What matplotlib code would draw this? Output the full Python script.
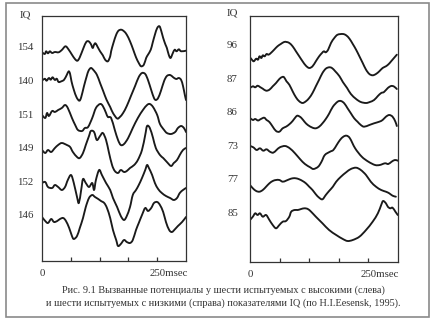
import matplotlib
matplotlib.use("Agg")
import matplotlib.pyplot as plt
from matplotlib.patches import Rectangle, PathPatch
from matplotlib.path import Path

plt.rcParams['font.family'] = ['Liberation Serif', 'DejaVu Serif']

# ---- Evoked potentials, high-IQ group (left panel) ----
high_iq = [154, 140, 151, 149, 152, 146]

t_h1 = [0, 6, 9, 13, 17, 22, 28, 36, 43, 51, 58, 65, 72, 77, 82, 90, 96, 101, 106, 110, 113, 116, 120, 126,
        132, 137, 143, 148, 150, 155, 161, 166, 172, 178, 184, 191, 198, 204, 210, 215, 221, 226, 230, 236,
        240, 245, 250, 255, 259, 263, 268, 271, 275, 279, 284, 288, 292, 297, 302, 312.5]
a_h1 = [-4.3, -6, -3.3, -5.3, -3.3, -5, -4, -4.3, -2, 1.7, -1.7, -6.7, -11.3, -12.7, -9.3, 0, 6, 6.7, 4, 0,
        3.3, 4.7, 1.7, -3.3, -7.3, -11.7, -13.3, -8.3, -3.3, 5, 13.3, 17.3, 18.3, 16.7, 13.3, 6.7, -1.7, -9.3,
        -15, -18.3, -16.7, -10, -6.7, -1.7, 5, 13.3, 20, 21.7, 16.7, 10, 3.3, 0, -6.7, -10, -5, -1.7, -3.3,
        -1.3, -3.3, -2.7]

t_h2 = [0, 6, 10, 15, 19, 23, 28, 32, 36, 42, 48, 54, 58, 61, 64, 69, 75, 81, 85, 91, 97, 101, 106, 111,
        119, 126, 133, 140, 148, 154, 163, 169, 176, 184, 193, 202, 210, 217, 224, 230, 237, 243, 247, 252,
        258, 265, 271, 278, 284, 291, 297, 302, 306, 310, 312.5]
a_h2 = [0.9, 2.9, 0.9, 3.6, 1.9, 4.3, 1.6, 2.9, -0.4, 0.3, 1.9, 6.9, 10.3, 7.6, 0.3, -8.1, -15.7, -19.1,
        -15.7, -4.7, 5.3, 10.9, 13.6, 11.9, 6.9, -1.4, -9.7, -18.1, -25.4, -31.4, -36.9, -35.4, -31.4, -24.4,
        -14.4, -4.4, 4.6, 8.6, 7.6, 1.6, -8.4, -16.4, -18.4, -16.4, -9.4, 0.6, 5.6, 6.6, 4.6, 2.6, 3.6, 1.6,
        -4.4, -13.4, -18.4]

t_h3 = [0, 7, 11, 15, 22, 28, 35, 43, 50, 56, 65, 72, 78, 87, 93, 100, 109, 117, 126, 132, 139, 143, 150,
        158, 165, 171, 178, 187, 197, 208, 219, 228, 234, 241, 250, 256, 265, 271, 280, 289, 295, 302, 308,
        312.5]
a_h3 = [0.2, -2.8, 2.2, -0.8, 4.2, 3.2, 5.2, 7.2, 10.2, 7.2, -2.8, -9.8, -14.8, -15.8, -12.8, -11.8, -2.8,
        7.2, 11.2, 9.2, 2.2, -1.8, -2.8, -14.8, -24.8, -29.8, -28.8, -22.8, -12.8, -2.8, 5.2, 10.2, 11.2,
        8.2, 0.2, -8.8, -14.8, -17.8, -18.8, -16.8, -12.8, -10.8, -12.8, -16.8]

t_h4 = [0, 7, 13, 20, 28, 35, 43, 54, 61, 67, 76, 82, 89, 95, 102, 106, 113, 119, 126, 132, 139, 145, 152,
        158, 165, 171, 178, 184, 191, 200, 208, 217, 224, 228, 234, 241, 247, 256, 263, 271, 280, 286, 293,
        299, 306, 312.5]
a_h4 = [-1.2, -4.2, -1.2, -3.2, 0.8, 3.8, 5.8, 3.8, 1.8, -3.2, -8.2, -9.2, -4.2, 3.8, 12.8, 17.8, 16.8,
        8.8, 12.8, 15.8, 8.8, -3.2, -16.2, -22.2, -24.2, -21.2, -23.2, -22.2, -19.2, -16.2, -11.2, -1.2,
        13.8, 22.8, 20.8, 10.8, 0.8, -6.2, -9.2, -13.2, -17.2, -14.2, -11.2, -6.2, -1.2, 0.8]

t_h5 = [0, 7, 13, 22, 28, 35, 43, 50, 56, 63, 69, 76, 80, 85, 89, 95, 102, 109, 113, 117, 124, 130, 139,
        148, 154, 163, 171, 178, 184, 191, 197, 204, 210, 217, 224, 228, 232, 239, 245, 252, 260, 269, 278,
        286, 293, 299, 306, 312.5]
a_h5 = [-0.6, 0.4, -4.6, -5.6, -2.6, -4.6, -7.6, -4.6, 2.4, 7.4, -0.6, -14.6, -20.6, -7.6, 3.4, -0.6,
        -4.6, -0.6, -7.6, 2.4, 12.4, 7.4, -0.6, -7.6, -15.6, -24.6, -33.6, -37.6, -33.6, -24.6, -12.6, -7.6,
        -2.6, 4.4, 12.4, 17.4, 14.4, 7.4, -0.6, -6.6, -10.6, -13.6, -15.6, -17.6, -15.6, -10.6, -7.6, -5.6]

t_h6 = [0, 7, 13, 20, 26, 33, 39, 46, 52, 59, 65, 69, 76, 82, 89, 95, 102, 109, 115, 122, 128, 135, 141,
        148, 154, 161, 165, 171, 178, 184, 191, 197, 204, 210, 217, 224, 230, 237, 243, 250, 256, 263, 269,
        276, 282, 289, 295, 304, 312.5]
a_h6 = [-1, -5, -7, -3, -6, -5, -3, -2, -5, -12, -20, -23, -20, -12, -2, 9, 18, 21, 19, 17, 15, 13, 8, -2,
        -14, -24, -30, -28, -24, -26, -27, -24, -14, -7, 1, 8, 5, 8, 13, 14, 11, 4, -6, -14, -16, -13, -10,
        -6, -1]

# ---- Evoked potentials, low-IQ group (right panel) ----
low_iq = [96, 87, 86, 73, 77, 85]

t_l1 = [0, 4, 8, 13, 17, 20, 24, 27, 31, 35, 39, 44, 51, 58, 65, 72, 77, 83, 90, 97, 104, 111, 118, 125,
        132, 139, 146, 152, 156, 160, 165, 171, 178, 185, 196, 203, 210, 217, 224, 231, 238, 245, 252, 259,
        266, 273, 280, 287, 293, 298, 304, 310]
a_l1 = [-11.3, -13.7, -15.3, -12.7, -13.7, -10.3, -12, -9.3, -10.3, -8, -8.7, -7, -3.7, -0.3, 2, 4, 4, 3,
        -0.3, -5.3, -10.3, -15.3, -19.7, -22, -20.3, -15.3, -10.3, -7, -5.3, -6.3, -3.7, 3, 8, 11.3, 12,
        10.7, 7.3, 2, -3.7, -10.3, -17, -23.7, -28, -29.3, -28, -25.3, -22, -20.3, -18, -15.3, -12, -8.7]

t_l2 = [0, 6, 11, 16, 21, 27, 34, 41, 48, 55, 62, 68, 72, 77, 83, 90, 97, 104, 111, 118, 125, 132, 139,
        146, 153, 160, 167, 173, 180, 189, 196, 205, 213, 224, 234, 245, 253, 262, 270, 277, 283, 291, 298,
        304, 310]
a_l2 = [-8.6, -6.9, -7.9, -6.3, -7.6, -9.3, -11.3, -10.3, -6.9, -3.6, 0.4, 2.4, 2.1, -1.9, -5.3, -11.9,
        -17.9, -21.9, -23.6, -21.9, -18.6, -13.6, -6.9, -0.3, 6.4, 10.7, 12.1, 11.4, 8.1, 3.1, -2.6, -8.6,
        -14.6, -19.6, -22.6, -23.6, -22.6, -20.6, -16.6, -13.6, -12.6, -8.6, -6.6, -7.1, -9.6]

t_l3 = [0, 6, 11, 17, 23, 30, 35, 41, 48, 55, 62, 69, 76, 83, 90, 97, 101, 108, 115, 122, 132, 139, 146,
        153, 160, 167, 175, 185, 192, 199, 206, 213, 220, 227, 234, 241, 252, 262, 273, 280, 287, 294, 301,
        307, 310]
a_l3 = [-5.2, -7.2, -6.2, -7.7, -6.2, -4.9, -7.2, -9.2, -13.9, -18.2, -18.9, -15.5, -13.9, -11.5, -8.2,
        -3.9, -2.9, -4.9, -8.9, -12.2, -14.9, -15.5, -13.9, -10.5, -6.2, -0.9, 6.1, 11.1, 11.8, 9.5, 4.5,
        -0.5, -5.5, -8.9, -12.2, -13.9, -12.2, -10.5, -8.9, -7.2, -3.9, -2.2, -3.9, -8.9, -13.2]

t_l4 = [0, 7, 14, 21, 28, 35, 42, 49, 56, 63, 74, 84, 95, 106, 116, 127, 134, 144, 151, 158, 169, 176,
        183, 190, 197, 204, 211, 222, 236, 250, 264, 274, 285, 292, 299, 306, 312]
a_l4 = [0.2, -1.1, -3.8, -2.1, -4.5, -3.1, -5.5, -6.5, -3.8, -1.1, 0.2, -2.1, -7.1, -13.1, -17.8, -21.1,
        -22.8, -20.5, -15.5, -8.8, -5.5, -3.8, 1.2, 6.2, 9.5, 10.5, 7.9, -2.1, -10.5, -15.5, -18.8, -18.8,
        -17.1, -17.8, -15.5, -13.8, -14.5]

t_l5 = [0, 6, 13, 20, 27, 34, 41, 48, 55, 62, 69, 76, 83, 90, 97, 104, 111, 118, 125, 132, 139, 146, 153,
        160, 167, 175, 182, 192, 203, 213, 224, 234, 245, 255, 266, 277, 287, 294, 301, 308]
a_l5 = [-5.4, -8.7, -11.4, -12.1, -10.4, -7.1, -3.7, -1.4, -0.4, -0.4, -2.1, -1.1, 0.3, 1.3, 1.3, 0.3,
        -1.4, -3.7, -7.1, -10.4, -14.7, -18.1, -19.7, -15.4, -11.4, -7.1, -2.1, 2.9, 7.3, 10.6, 11.9, 9.6,
        4.6, -2.1, -7.1, -10.4, -12.1, -13.7, -16.1, -17.1]

t_l6 = [0, 6, 11, 16, 21, 27, 34, 41, 48, 55, 62, 69, 76, 83, 87, 94, 101, 108, 115, 122, 129, 139, 153,
        167, 182, 196, 206, 217, 231, 245, 259, 270, 277, 281, 287, 291, 296, 301, 307, 312]
a_l6 = [-7, -3.7, -0.3, -2, -0.3, -3.7, -2, -7, -12, -15.3, -12, -8.7, -8, -3.7, 1.3, 3, 3, 4, 4.7, 4,
        1.3, -3.7, -10.3, -17, -22, -26, -28, -27, -23.7, -17, -8.7, -0.3, 8, 12, 9.7, 6.3, 4.7, 5.3, 1.3,
        -2]

high_traces = [(t_h1, a_h1), (t_h2, a_h2), (t_h3, a_h3), (t_h4, a_h4), (t_h5, a_h5), (t_h6, a_h6)]
low_traces = [(t_l1, a_l1), (t_l2, a_l2), (t_l3, a_l3), (t_l4, a_l4), (t_l5, a_l5), (t_l6, a_l6)]

T_MAX = 312.5
TICKS = [62.5, 125, 187.5, 250]

W, H = 435, 323
fig = plt.figure(figsize=(W / 100, H / 100), dpi=100)
fig.patch.set_facecolor('white')

# outer frame of the figure plate
fig.add_artist(Rectangle((6 / W, 1 - 317 / H), (429 - 6) / W, (317 - 3) / H,
                         transform=fig.transFigure, fill=False, edgecolor='#8a8a8a', lw=1.2))


def smooth_curve(xs, ys):
    """Pen-drawn look: pass a cubic Bezier curve through every sample (Catmull-Rom tangents)."""
    pts = list(zip(xs, ys))
    n = len(pts)
    verts = [pts[0]]
    codes = [Path.MOVETO]
    for i in range(n - 1):
        p0 = pts[i - 1] if i > 0 else pts[i]
        p1 = pts[i]
        p2 = pts[i + 1]
        p3 = pts[i + 2] if i + 2 < n else pts[i + 1]
        c1 = (p1[0] + (p2[0] - p0[0]) / 6, p1[1] + (p2[1] - p0[1]) / 6)
        c2 = (p2[0] - (p3[0] - p1[0]) / 6, p2[1] - (p3[1] - p1[1]) / 6)
        verts += [c1, c2, p2]
        codes += [Path.CURVE4] * 3
    return Path(verts, codes)


def panel(rect, traces, iqs, first, step, height, iq_y):
    ax = fig.add_axes(rect)
    for i, ((t, a), iq) in enumerate(zip(traces, iqs)):
        base = -(first + step * i)
        ax.add_patch(PathPatch(smooth_curve(t, [base + v for v in a]), fill=False,
                               edgecolor='#1a1a1a', lw=1.35, joinstyle='round', capstyle='round'))
        ax.text(-0.118, base, str(iq), transform=ax.get_yaxis_transform(),
                ha='center', va='center', fontsize=7.8, color='#333333')
    ax.text(-0.118, iq_y, 'IQ', transform=ax.transAxes, ha='center', va='center',
            fontsize=7.8, color='#333333')
    ax.set_xlim(0, T_MAX)
    ax.set_ylim(-height, 0)
    ax.set_xticks(TICKS)
    ax.set_xticklabels([])
    ax.set_yticks([])
    ax.tick_params(axis='x', direction='in', length=3.2, width=0.9, color='#333333')
    for s in ax.spines.values():
        s.set_linewidth(0.9)
        s.set_color('#333333')
    ax.annotate('0', xy=(0, 0), xycoords=('data', 'axes fraction'), xytext=(0, -5.5),
                textcoords='offset points', ha='center', va='top', fontsize=7.8, color='#333333')
    ax.annotate('250msec', xy=(250, 0), xycoords=('data', 'axes fraction'), xytext=(-5.5, -5.5),
                textcoords='offset points', ha='left', va='top', fontsize=7.8, color='#333333')
    return ax


panel([42 / W, 1 - 261 / H, 144 / W, 245 / H], high_traces, high_iq, 32, 33.6, 245, 1.005)
panel([250 / W, 1 - 262 / H, 148 / W, 246 / H], low_traces, low_iq, 30, 33.4, 246, 1.013)

caption = ("Рис. 9.1 Вызванные потенциалы у шести испытуемых с высокими (слева)\n"
           "и шести испытуемых с низкими (справа) показателями IQ (по H.I.Eesensk, 1995).")
fig.text(223 / W, 1 - 297 / H, caption, ha='center', va='center', fontsize=7.4,
         color='#333333', linespacing=1.45)

fig.savefig('out.png', dpi=100, facecolor='white')
